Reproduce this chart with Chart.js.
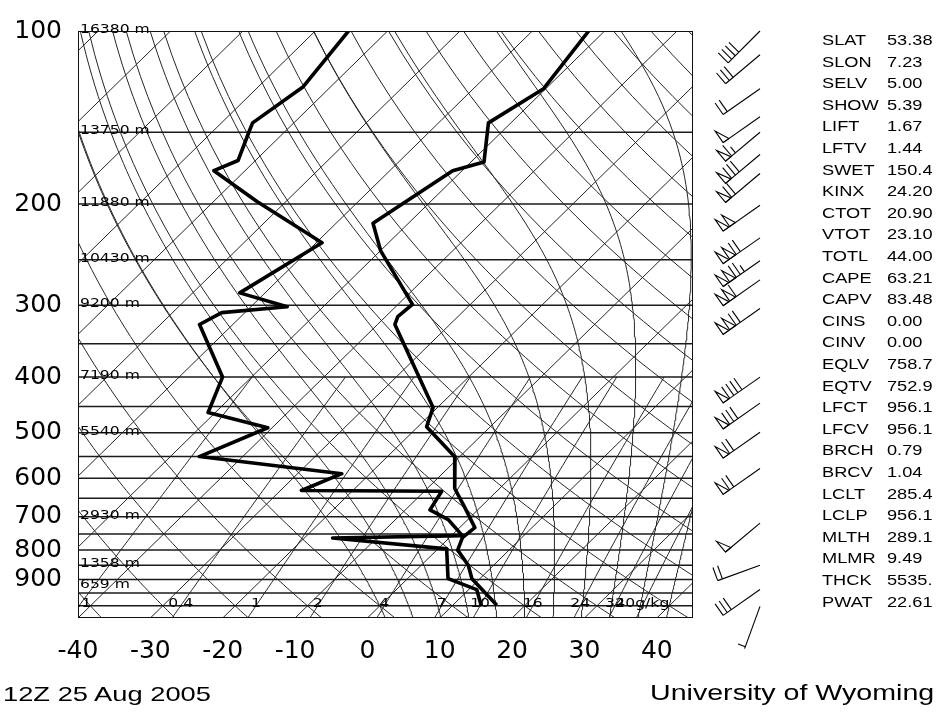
<!DOCTYPE html>
<html><head><meta charset="utf-8">
<script src="https://cdn.jsdelivr.net/npm/chart.js@4.4.0/dist/chart.umd.min.js"></script>
<style>
html,body{margin:0;padding:0;background:#fff;}
#wrap{position:relative;width:936px;height:713px;overflow:hidden;background:#fff;}
#c{position:absolute;left:0;top:0;}
.t{position:absolute;font-family:"Liberation Sans",Arial,sans-serif;color:#000;white-space:nowrap;transform:scaleX(1.3);transform-origin:0 50%;}
</style></head><body>
<div id="wrap"><canvas id="c" width="936" height="713"></canvas></div>
<script>
// ---------------- data ----------------
const tempPres = [100,126,144.5,169,175,216,241,299,314,324,452,488,551,625,671,731,761,800,850,897,998];
const tempVals = [-52.2,-50.3,-53.1,-48.2,-51.3,-54.9,-50.0,-38.0,-38.3,-37.6,-20.6,-18.8,-10.6,-6.2,-2.4,2.1,1.8,2.9,6.5,8.9,16.1];
const dewPres = [100,125,144.5,150,168,175,198,233.5,285.5,301.7,309,324,400,461,490,550,589,630,632,681,708,755,762,796,897,937,1002];
const dewVals = [-85.4,-83.8,-85.7,-84.9,-82.4,-84.3,-74.0,-59.2,-63.5,-55.0,-63.2,-64.6,-54.0,-51.0,-40.6,-46.0,-23.9,-27.1,-7.6,-6.6,-2.7,1.5,-16.1,1.2,5.6,11.1,14.1];
const windPres = [100,110,126,141,150,164,177,201,229,251,271,304,400,444,499,577,718,850,937,1002];
const windDir  = [225,230,235,235,230,230,230,235,235,235,235,235,235,235,235,235,230,250,235,200];
const windSpd  = [40,30,20,50,65,80,70,100,120,125,110,120,90,80,70,70,50,20,30,5];
const heightPres = [100,150,200,250,300,400,500,700,850,925];
const heightText = ['16380 m','13750 m','11880 m','10430 m','9200 m','7190 m','5540 m','2930 m','1358 m','659 m'];
const pressureTicks = [100,200,300,400,500,600,700,800,900];
const tempTicks = [-40,-30,-20,-10,0,10,20,30,40];
const isobarLevels = [100,150,200,250,300,350,400,450,500,550,600,650,700,750,800,850,900,950,1000];
const isotherms = [-130,-120,-110,-100,-90,-80,-70,-60,-50,-40,-30,-20,-10,0,10,20,30,40];
const dryThetaC = [-50,-40,-30,-20,-10,0,10,20,30,40,50,60,70,80,90,100,110,120,130,140,150,160,170,180];
const moistThetaW = [0,4,8,12,16,20,24,28,32,36,40];
const mixRatios = [0.1,0.4,1,2,4,7,10,16,24,32,40];
const mixLabels = ['0.1','0.4','1','2','4','7','10','16','24','32','40g/kg'];
const indexNames = ['SLAT','SLON','SELV','SHOW','LIFT','LFTV','SWET','KINX','CTOT','VTOT','TOTL','CAPE','CAPV','CINS','CINV','EQLV','EQTV','LFCT','LFCV','BRCH','BRCV','LCLT','LCLP','MLTH','MLMR','THCK','PWAT'];
const indexValues = ['53.38','7.23','5.00','5.39','1.67','1.44','150.4','24.20','20.90','23.10','44.00','63.21','83.48','0.00','0.00','758.7','752.9','956.1','956.1','0.79','1.04','285.4','956.1','289.1','9.49','5535.','22.61'];
const dateText = '12Z 25 Aug 2005';
const sourceText = 'University of Wyoming';

// ---------------- geometry of the diagram ----------------
const P_TOP = 100, P_BOT = 1050, X_MIN = -40, X_MAX = 45;
const AREA = {left:78, top:19, right:693, bottom:618};
const SKEW = ((AREA.bottom-AREA.top)/Math.log10(P_BOT/P_TOP)) / ((AREA.right-AREA.left)/(X_MAX-X_MIN));
const sk = (T,p) => T + SKEW*Math.log10(P_BOT/p);
const MIX_TOP = 400, MOIST_TOP = 100;

function tdFromMix(w,p){ const e=w*p/(622+w); const l=Math.log(e/6.112); return 243.5*l/(17.67-l); }
function moistRate(p,T){ const Tc=T-273.15; const es=6.112*Math.exp(17.67*Tc/(Tc+243.5)); const rs=0.622*es/(p-es);
  return (287.04*T+2.501e6*rs)/(p*(1005.7+2.501e6*2.501e6*rs*0.622/(287.04*T*T))); }
function moistLine(tw){
  const low=[]; let T=tw+273.15;
  for(let q=1000;q<P_BOT;q+=5){const k1=moistRate(q,T);const k2=moistRate(q+5,T+5*k1);T+=2.5*(k1+k2);low.push({x:sk(T-273.15,q+5),y:q+5});}
  const pts=low.reverse(); T=tw+273.15; pts.push({x:sk(tw,1000),y:1000});
  for(let q=1000;q>MOIST_TOP;q-=5){const k1=moistRate(q,T);const k2=moistRate(q-5,T-5*k1);T-=2.5*(k1+k2);pts.push({x:sk(T-273.15,q-5),y:q-5});}
  return pts;
}

const datasets=[];
const thin = {showLine:true,pointRadius:0,borderColor:'#262626',borderWidth:1,fill:false,order:10,tension:0};
function addLine(pts,extra){ datasets.push(Object.assign({},thin,{data:pts},extra||{})); }

isobarLevels.forEach(p=>addLine([{x:X_MIN,y:p},{x:X_MAX,y:p}],{borderColor:'#1a1a1a',borderWidth:1.5}));
isotherms.forEach(T=>addLine([{x:sk(T,P_BOT),y:P_BOT},{x:sk(T,P_TOP),y:P_TOP}]));
dryThetaC.forEach(th=>{ const pts=[]; for(let p=P_BOT;p>=P_TOP;p-=10){ const T=(th+273.15)*Math.pow(p/1000,0.2857)-273.15; pts.push({x:sk(T,p),y:p}); } addLine(pts); });
moistThetaW.forEach(tw=>addLine(moistLine(tw)));
mixRatios.forEach(w=>{ const pts=[]; for(let p=P_BOT;p>=MIX_TOP;p-=10){ pts.push({x:sk(tdFromMix(w,p),p),y:p}); } addLine(pts); });

datasets.push({data:tempPres.map((p,i)=>({x:sk(tempVals[i],p),y:p})),showLine:true,pointRadius:0,borderColor:'#000',borderWidth:3.6,fill:false,order:0,borderJoinStyle:'round'});
datasets.push({data:dewPres.map((p,i)=>({x:sk(dewVals[i],p),y:p})),showLine:true,pointRadius:0,borderColor:'#000',borderWidth:3.6,fill:false,order:0,borderJoinStyle:'round'});

function drawBarb(ctx,ox,oy,dir,spd){
  const L=45, fl=14, r=dir*Math.PI/180;
  const sx=Math.sin(r), sy=-Math.cos(r);
  const px=-sy, py=sx;
  const fx=px, fy=py;
  const ex=ox+sx*L, ey=oy+sy*L;
  ctx.beginPath(); ctx.moveTo(ox,oy); ctx.lineTo(ex,ey); ctx.stroke();
  let s=Math.round(spd/5)*5, pos=0;
  while(s>=50){ const bx=ex-sx*pos, by=ey-sy*pos; const cx=ex-sx*(pos+7), cy=ey-sy*(pos+7);
    ctx.beginPath(); ctx.moveTo(bx,by); ctx.lineTo(bx+fx*fl,by+fy*fl); ctx.lineTo(cx,cy); ctx.closePath(); ctx.stroke(); pos+=8; s-=50; }
  while(s>=10){ const bx=ex-sx*pos, by=ey-sy*pos; ctx.beginPath(); ctx.moveTo(bx,by); ctx.lineTo(bx+fx*fl,by+fy*fl); ctx.stroke(); pos+=5; s-=10; }
  if(s>=5){ if(pos===0) pos=2; const bx=ex-sx*pos, by=ey-sy*pos; ctx.beginPath(); ctx.moveTo(bx,by); ctx.lineTo(bx+fx*fl*0.55,by+fy*fl*0.55); ctx.stroke(); }
}

const decor = {
  id:'decor',
  afterDatasetsDraw(chart){
    const c=chart.ctx, xs=chart.scales.x, ys=chart.scales.y, a=chart.chartArea;
    c.save();
    c.strokeStyle='#111'; c.lineWidth=1; c.strokeRect(a.left+0.5,a.top+0.5,a.right-a.left-1,a.bottom-a.top-1);
    c.fillStyle='#000'; c.textBaseline='middle';
    c.font='12px "DejaVu Sans", sans-serif'; c.textAlign='left';
    heightPres.forEach((p,i)=>{ const y=ys.getPixelForValue(p); c.save(); c.translate(a.left+2,y-1); c.scale(1.3,1); c.fillText(heightText[i],0,0); c.restore(); });
    c.save(); c.beginPath(); c.rect(a.left,a.top,a.right-a.left,a.bottom-a.top); c.clip();
    c.textAlign='center';
    mixRatios.forEach((w,i)=>{ const x=xs.getPixelForValue(sk(tdFromMix(w,1000),1000)); const y=ys.getPixelForValue(1000)-1.5; c.save(); c.translate(x,y); c.scale(1.3,1); c.fillText(mixLabels[i],0,0); c.restore(); });
    c.restore();
    c.strokeStyle='#000'; c.lineWidth=1.1;
    windPres.forEach((p,i)=>drawBarb(c,760,ys.getPixelForValue(p),windDir[i],windSpd[i]));
    c.restore();
  }
};

new Chart(document.getElementById('c'),{
  type:'scatter',
  data:{datasets},
  options:{
    responsive:false, animation:false, events:[], devicePixelRatio:1,
    layout:{padding:{top:AREA.top,right:936-AREA.right,bottom:0,left:0}},
    plugins:{legend:{display:false},tooltip:{enabled:false}},
    scales:{
      x:{type:'linear',min:X_MIN,max:X_MAX,
        afterBuildTicks:s=>{s.ticks=tempTicks.map(v=>({value:v}));},
        afterFit:s=>{s.height=713-AREA.bottom;},
        ticks:{callback:v=>String(v),autoSkip:false,maxRotation:0,padding:18,color:'#000',font:{family:'DejaVu Sans',size:25}},
        grid:{display:false,drawTicks:false},border:{display:false}},
      y:{type:'logarithmic',reverse:true,min:P_TOP,max:P_BOT,
        afterBuildTicks:s=>{s.ticks=pressureTicks.map(v=>({value:v}));},
        afterFit:s=>{s.width=AREA.left;},
        ticks:{callback:v=>String(v),autoSkip:false,padding:16,color:'#000',font:{family:'DejaVu Sans',size:25}},
        grid:{display:false,drawTicks:false},border:{display:false}}
    }
  },
  plugins:[decor]
});

// text panel and captions
const wrap=document.getElementById('wrap');
function addText(txt,left,cy,size){ const d=document.createElement('div'); d.className='t'; d.textContent=txt; d.style.left=left+'px'; d.style.fontSize=size+'px'; d.style.lineHeight=(size+2)+'px'; d.style.top=(cy-(size+2)/2)+'px'; wrap.appendChild(d); }
indexNames.forEach((n,i)=>{ const y=40+i*21.6; addText(n,822,y,14); addText(indexValues[i],887,y,14); });
addText(dateText,3,693,21);
addText(sourceText,650,693,22);
</script>
</body></html>
